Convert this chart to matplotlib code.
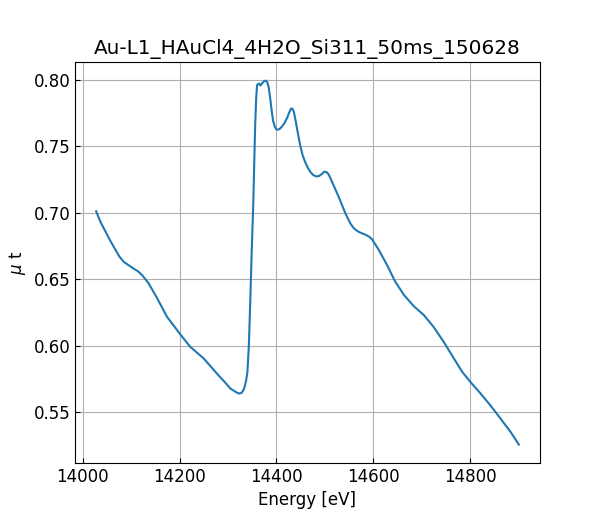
import matplotlib
matplotlib.use("Agg")
import matplotlib.pyplot as plt

energy = [14028, 14037, 14047, 14057, 14068, 14076, 14085, 14095, 14105, 14114,
          14123, 14136, 14154, 14174, 14200, 14222, 14250, 14277, 14295, 14305,
          14315, 14322, 14328, 14333, 14337, 14340, 14343, 14346, 14349, 14352,
          14356, 14358, 14360, 14364, 14367, 14370, 14374, 14378, 14381, 14384,
          14387, 14390, 14393, 14397, 14401, 14406, 14411, 14416, 14422, 14426,
          14430, 14433, 14436, 14440, 14444, 14449, 14454, 14460, 14465, 14470,
          14476, 14482, 14488, 14494, 14499, 14503, 14507, 14511, 14515, 14528,
          14542, 14552, 14559, 14566, 14574, 14583, 14591, 14597, 14611, 14628,
          14645, 14663, 14683, 14704, 14724, 14745, 14766, 14783, 14800, 14821,
          14841, 14862, 14883, 14900]
mu_t = [0.701, 0.693, 0.686, 0.679, 0.672, 0.667, 0.663, 0.6605, 0.658, 0.656,
        0.653, 0.647, 0.6356, 0.6218, 0.6093, 0.5992, 0.5904, 0.5791, 0.5720, 0.5678,
        0.5655, 0.5641, 0.5645, 0.5675, 0.573, 0.580, 0.600, 0.634, 0.672, 0.705,
        0.765, 0.785, 0.796, 0.797, 0.7955, 0.797, 0.7987, 0.7992, 0.798, 0.794,
        0.786, 0.777, 0.769, 0.764, 0.7623, 0.7627, 0.7645, 0.767, 0.7712, 0.775,
        0.7782, 0.778, 0.7755, 0.768, 0.760, 0.7505, 0.743, 0.7373, 0.7335, 0.7305,
        0.7282, 0.7272, 0.7275, 0.7292, 0.7308, 0.7305, 0.729, 0.7262, 0.7228, 0.7121,
        0.6996, 0.6921, 0.6885, 0.6863, 0.6848, 0.6835, 0.682, 0.680, 0.672, 0.6607,
        0.6481, 0.6381, 0.6298, 0.623, 0.6142, 0.6029, 0.5904, 0.5804, 0.5728, 0.5641,
        0.5553, 0.5453, 0.5352, 0.5257]

fig, ax = plt.subplots(figsize=(6, 5.2), dpi=100)
ax.plot(energy, mu_t, color="#1f77b4", lw=1.5)
ax.set_title("Au-L1_HAuCl4_4H2O_Si311_50ms_150628", fontsize=14.4)
ax.set_xlabel("Energy [eV]", fontsize=12)
ax.set_ylabel(r"$\mu$ t", fontsize=12)
ax.tick_params(direction="in", labelsize=12)
ax.grid(True)
fig.savefig("out.png", dpi=100)
